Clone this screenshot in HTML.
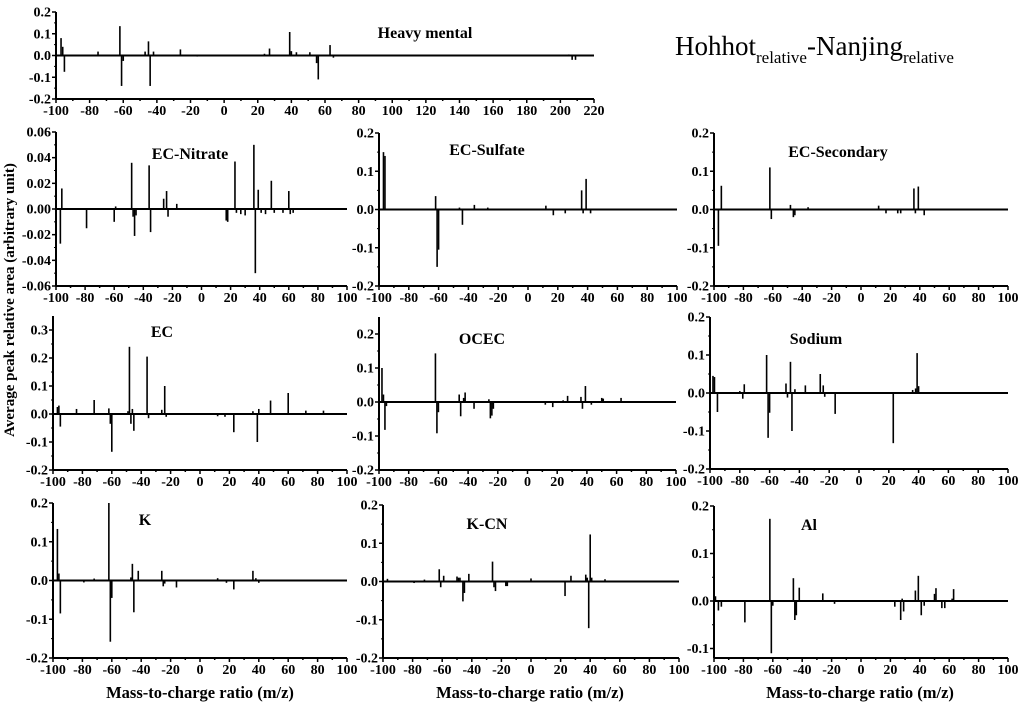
<!DOCTYPE html>
<html><head><meta charset="utf-8"><style>
html,body{margin:0;padding:0;background:#fff;}
svg{display:block;font-family:"Liberation Serif",serif;}
</style></head><body>
<svg id="s" width="1024" height="705" xmlns="http://www.w3.org/2000/svg">
<text x="675" y="55" font-size="27" fill="#000">Hohhot<tspan font-size="17" dy="8">relative</tspan><tspan font-size="27" dy="-8">-Nanjing</tspan><tspan font-size="17" dy="8">relative</tspan></text>
<text transform="translate(14,300) rotate(-90)" text-anchor="middle" font-size="15" font-weight="bold">Average peak relative area (arbitrary unit)</text>
<text x="200" y="698" text-anchor="middle" font-size="16.5" font-weight="bold">Mass-to-charge ratio (m/z)</text>
<text x="530" y="698" text-anchor="middle" font-size="16.5" font-weight="bold">Mass-to-charge ratio (m/z)</text>
<text x="860" y="698" text-anchor="middle" font-size="16.5" font-weight="bold">Mass-to-charge ratio (m/z)</text>
</svg>
<script>
var P=[
{t:"Heavy mental",tx:425,ty:38,x0:56,x1:594,xmin:-100,xmax:220,ymax:0.2,ymin:-0.2,pt:12,pb:99,ticks:[0.2,0.1,0,-0.1,-0.2],dec:1,top:0.2,d:[[-97,0.08],[-96,0.04],[-95,-0.075],[-75,0.018],[-62,0.135],[-61,-0.14],[-60,-0.025],[-47,0.018],[-45,0.065],[-44,-0.14],[-42,0.018],[-26,0.028],[-16,-0.005],[24,0.008],[27,0.032],[39,0.108],[40,0.02],[43,0.015],[51,0.015],[55,-0.035],[56,-0.11],[63,0.048],[65,-0.01],[205,0.005],[207,-0.02],[209,-0.02]]},
{t:"EC-Nitrate",tx:190,ty:159,x0:56,x1:347,xmin:-100,xmax:100,ymax:0.06,ymin:-0.06,pt:132,pb:286,ticks:[0.06,0.04,0.02,0,-0.02,-0.04,-0.06],dec:2,top:0.06,d:[[-97,-0.027],[-96,0.016],[-79,-0.015],[-60,-0.01],[-59,0.002],[-48,0.036],[-47,-0.006],[-46,-0.021],[-45,-0.005],[-36,0.034],[-35,-0.018],[-26,0.008],[-24,0.014],[-23,-0.006],[-17,0.004],[17,-0.009],[18,-0.01],[23,0.037],[24,-0.003],[27,-0.004],[30,-0.005],[36,0.05],[37,-0.05],[39,0.015],[41,-0.003],[44,-0.004],[48,0.022],[50,-0.003],[56,-0.003],[60,0.014],[61,-0.004],[63,-0.003]]},
{t:"EC-Sulfate",tx:487,ty:155,x0:379,x1:677,xmin:-100,xmax:100,ymax:0.2,ymin:-0.2,pt:133,pb:286,ticks:[0.2,0.1,0,-0.1,-0.2],dec:1,top:0.2,d:[[-97,0.15],[-96,0.14],[-62,0.035],[-61,-0.15],[-60,-0.105],[-46,0.005],[-44,-0.04],[-36,0.012],[-27,0.005],[12,0.01],[17,-0.015],[25,-0.01],[36,0.05],[37,-0.01],[39,0.08],[42,-0.01]]},
{t:"EC-Secondary",tx:838,ty:157,x0:714,x1:1008,xmin:-100,xmax:100,ymax:0.2,ymin:-0.2,pt:133,pb:286,ticks:[0.2,0.1,0,-0.1,-0.2],dec:1,top:0.2,d:[[-97,-0.095],[-95,0.062],[-62,0.11],[-61,-0.025],[-48,0.012],[-46,-0.02],[-45,-0.015],[-36,0.006],[12,0.01],[17,-0.01],[25,-0.01],[27,-0.01],[36,0.055],[37,-0.01],[39,0.06],[43,-0.015]]},
{t:"EC",tx:162,ty:337,x0:53,x1:347,xmin:-100,xmax:100,ymax:0.3,ymin:-0.2,pt:330,pb:470,ticks:[0.3,0.2,0.1,0,-0.1,-0.2],dec:1,top:0.35,d:[[-97,0.025],[-96,0.03],[-95,-0.045],[-84,0.018],[-72,0.05],[-62,0.02],[-61,-0.035],[-60,-0.135],[-49,0.01],[-48,0.24],[-47,-0.035],[-46,0.018],[-45,-0.06],[-36,0.205],[-35,-0.015],[-26,0.015],[-24,0.1],[-23,-0.01],[12,-0.008],[17,-0.01],[23,-0.065],[36,0.01],[39,-0.1],[40,0.018],[48,0.048],[60,0.075],[72,0.012],[84,0.012]]},
{t:"OCEC",tx:482,ty:344,x0:379,x1:676,xmin:-100,xmax:100,ymax:0.2,ymin:-0.2,pt:334,pb:470,ticks:[0.2,0.1,0,-0.1,-0.2],dec:1,top:0.25,d:[[-98,0.1],[-97,0.022],[-96,-0.082],[-95,-0.012],[-62,0.143],[-61,-0.092],[-60,-0.03],[-46,0.022],[-45,-0.042],[-43,0.012],[-42,0.028],[-36,-0.02],[-26,0.008],[-25,-0.048],[-24,-0.04],[-23,-0.02],[12,-0.008],[17,-0.015],[24,0.005],[27,0.018],[36,0.015],[37,-0.02],[39,0.047],[43,-0.008],[50,0.012],[51,0.01],[63,0.012]]},
{t:"Sodium",tx:816,ty:344,x0:710,x1:1008,xmin:-100,xmax:100,ymax:0.2,ymin:-0.2,pt:317,pb:469,ticks:[0.2,0.1,0,-0.1,-0.2],dec:1,top:0.2,d:[[-98,0.045],[-97,0.042],[-95,-0.05],[-80,0.005],[-78,-0.015],[-77,0.023],[-62,0.1],[-61,-0.118],[-60,-0.052],[-49,0.025],[-48,-0.012],[-46,0.082],[-45,-0.1],[-43,0.01],[-36,0.02],[-26,0.05],[-24,0.02],[-23,-0.01],[-16,-0.055],[23,-0.132],[36,0.008],[38,0.012],[39,0.105],[40,0.018]]},
{t:"K",tx:145,ty:525,x0:53,x1:347,xmin:-100,xmax:100,ymax:0.2,ymin:-0.2,pt:503,pb:658,ticks:[0.2,0.1,0,-0.1,-0.2],dec:1,top:0.2,d:[[-97,0.133],[-96,0.018],[-95,-0.085],[-79,-0.005],[-72,0.005],[-62,0.2],[-61,-0.158],[-60,-0.045],[-47,0.008],[-46,0.043],[-45,-0.082],[-42,0.025],[-26,0.025],[-25,-0.015],[-24,-0.008],[-16,-0.018],[12,0.006],[18,-0.006],[23,-0.023],[36,0.025],[38,0.006],[40,-0.006]]},
{t:"K-CN",tx:487,ty:529,x0:383,x1:679,xmin:-100,xmax:100,ymax:0.2,ymin:-0.2,pt:505,pb:658,ticks:[0.2,0.1,0,-0.1,-0.2],dec:1,top:0.2,d:[[-97,0.007],[-79,-0.004],[-72,0.005],[-62,0.032],[-61,-0.015],[-59,0.015],[-50,0.013],[-49,0.01],[-48,0.01],[-46,-0.052],[-45,-0.03],[-42,0.02],[-26,0.052],[-25,-0.015],[-24,-0.025],[-17,-0.012],[-16,-0.012],[0,0.008],[23,-0.038],[27,0.015],[37,0.018],[38,0.01],[39,-0.122],[40,0.123],[41,0.01],[50,0.006]]},
{t:"Al",tx:809,ty:530,x0:714,x1:1008,xmin:-100,xmax:100,ymax:0.2,ymin:-0.12,pt:506,pb:658,ticks:[0.2,0.1,0,-0.1],dec:1,top:0.2,d:[[-99,0.01],[-97,-0.02],[-95,-0.012],[-79,-0.045],[-62,0.173],[-61,-0.11],[-60,-0.01],[-46,0.048],[-45,-0.04],[-44,-0.03],[-42,0.028],[-26,0.016],[-18,-0.006],[23,-0.012],[27,-0.04],[28,0.005],[29,-0.022],[37,0.022],[39,0.053],[41,-0.03],[43,-0.01],[50,0.015],[51,0.027],[55,-0.015],[57,-0.015],[62,0.005],[63,0.025]]}
];
var s=document.getElementById('s'),h='';
P.forEach(function(p){
 var ky=(p.pb-p.pt)/(p.ymax-p.ymin);
 function Y(v){return p.pt+(p.ymax-v)*ky;}
 function X(v){return p.x0+(v-p.xmin)*(p.x1-p.x0)/(p.xmax-p.xmin);}
 var z=Y(0);
 h+='<line x1="'+p.x0+'" y1="'+Y(p.top)+'" x2="'+p.x0+'" y2="'+p.pb+'" stroke="#000" stroke-width="2"/>';
 h+='<line x1="'+p.x0+'" y1="'+p.pb+'" x2="'+p.x1+'" y2="'+p.pb+'" stroke="#000" stroke-width="2"/>';
 h+='<line x1="'+p.x0+'" y1="'+z+'" x2="'+p.x1+'" y2="'+z+'" stroke="#000" stroke-width="2"/>';
 p.ticks.forEach(function(t){var y=Y(t);
  h+='<line x1="'+(p.x0-4)+'" y1="'+y+'" x2="'+p.x0+'" y2="'+y+'" stroke="#000" stroke-width="1.5"/>';
  h+='<text x="'+(p.x0-5)+'" y="'+(y+4.5)+'" text-anchor="end" font-size="14" font-weight="bold">'+(t==0?(p.dec==2?'0.00':'0.0'):t.toFixed(p.dec))+'</text>';
 });
 for(var i=0;i<p.ticks.length-1;i++){var y=(Y(p.ticks[i])+Y(p.ticks[i+1]))/2;h+='<line x1="'+(p.x0-2)+'" y1="'+y+'" x2="'+p.x0+'" y2="'+y+'" stroke="#000"/>';}
 for(var v=p.xmin;v<=p.xmax;v+=10){var x=X(v),maj=(v%20==0);
  h+='<line x1="'+x+'" y1="'+p.pb+'" x2="'+x+'" y2="'+(p.pb+(maj?4:2))+'" stroke="#000" stroke-width="1.5"/>';
  if(maj)h+='<text x="'+x+'" y="'+(p.pb+16)+'" text-anchor="middle" font-size="14" font-weight="bold">'+v+'</text>';}
 p.d.forEach(function(d){h+='<line x1="'+X(d[0])+'" y1="'+z+'" x2="'+X(d[0])+'" y2="'+Y(d[1])+'" stroke="#000" stroke-width="1.6"/>';});
 h+='<text x="'+p.tx+'" y="'+p.ty+'" text-anchor="middle" font-size="16" font-weight="bold">'+p.t+'</text>';
});
s.insertAdjacentHTML('beforeend',h);
</script>
</body></html>
